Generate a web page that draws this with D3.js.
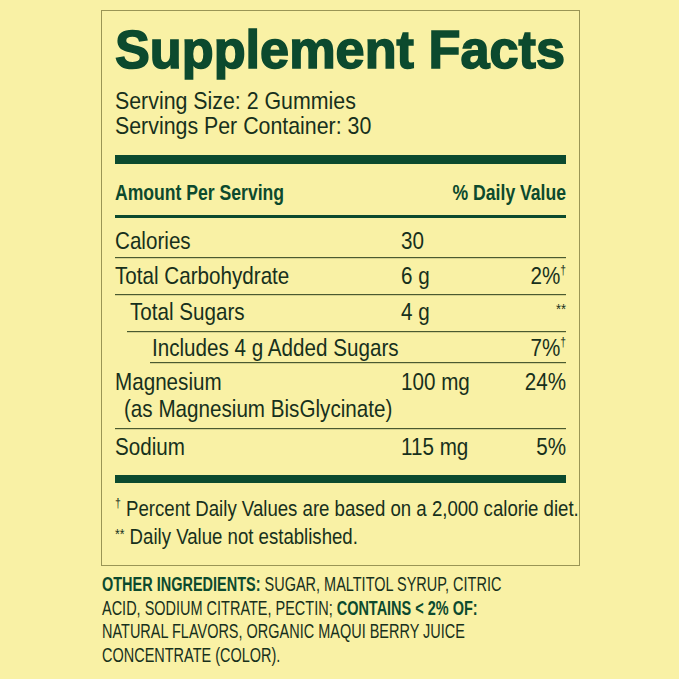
<!DOCTYPE html>
<html><head><meta charset="utf-8">
<script src="https://cdn.jsdelivr.net/npm/d3@7"></script>
<style>body{margin:0;background:#f9f1a5}</style></head>
<body><svg id="c" width="679" height="679"></svg>
<script>
const title = "Supplement Facts";
const servingLines = ["Serving Size: 2 Gummies", "Servings Per Container: 30"];
const headers = ["Amount Per Serving", "% Daily Value"];
const nutrients = ["Calories", "Total Carbohydrate", "Total Sugars", "Includes 4 g Added Sugars", "Magnesium", "Sodium"];
const subLabels = ["", "", "", "", "(as Magnesium BisGlycinate)", ""];
const amounts = ["30", "6 g", "4 g", "", "100 mg", "115 mg"];
const dailyValues = ["", "2%", "**", "7%", "24%", "5%"];
const daggers = [false, true, false, true, false, false];
const indents = [0, 0, 1, 2, 0, 0];
const footnotes = ["\u2020 Percent Daily Values are based on a 2,000 calorie diet.", "** Daily Value not established."];
const ingredients = [
 [["OTHER INGREDIENTS: ",1],["SUGAR, MALTITOL SYRUP, CITRIC",0]],
 [["ACID, SODIUM CITRATE, PECTIN; ",0],["CONTAINS < 2% OF:",1]],
 [["NATURAL FLAVORS, ORGANIC MAQUI BERRY JUICE",0]],
 [["CONCENTRATE (COLOR).",0]]];

const svg = d3.select("#c");
const G = "#0c4a2e", T = "#17301c";
const F = "'Liberation Sans',Arial,sans-serif";
function txt(x,y,s,size,sx,opts={}){
  const g = svg.append("g").attr("transform",`translate(${x},${y}) scale(${sx},1)`);
  const t = g.append("text").attr("font-family",F).attr("font-size",size).attr("fill",opts.fill||T)
    .attr("font-weight",opts.bold?700:400).attr("text-anchor",opts.anchor||"start");
  if(s!==null) t.text(s);
  return t;
}
svg.append("rect").attr("width",679).attr("height",679).attr("fill","#f9f1a5");
svg.append("rect").attr("x",101.5).attr("y",10.5).attr("width",478).attr("height",555).attr("fill","none").attr("stroke","#9a9555").attr("stroke-width",1);
svg.append("text").attr("x",115).attr("y",68).attr("font-family",F).attr("font-weight",900)
 .attr("font-size",54).attr("fill",G).attr("stroke",G).attr("stroke-width",1.6).attr("textLength",450).attr("lengthAdjust","spacingAndGlyphs").text(title);
servingLines.forEach((s,i)=>txt(115,109+i*25,s,24,0.89));
svg.append("rect").attr("x",115).attr("y",155).attr("width",451).attr("height",9).attr("fill",G);
txt(115,200,headers[0],22,0.8,{bold:1,fill:G});
txt(566,200,headers[1],22,0.8,{bold:1,fill:G,anchor:"end"});
svg.append("rect").attr("x",115).attr("y",215).attr("width",451).attr("height",3).attr("fill",G);

const baselines = [249,284,320,356,390,455];
const lineYs = [257,294,331,362,428,null];
const indentX = [115,130,152];
const lineX = [115,115,127,150,115,115];
nutrients.forEach((n,i)=>{
  const y = baselines[i];
  txt(indentX[indents[i]],y,n,24,0.86);
  if(subLabels[i]) txt(124,y+27,subLabels[i],24,0.86);
  txt(401,y,amounts[i],24,0.86);
  const star = dailyValues[i]==="**";
  const dv = txt(566,star?y-6:y,dailyValues[i],star?15:24,0.86,{anchor:"end"});
  if(daggers[i]) dv.append("tspan").attr("dy",-10).attr("font-size",12).text("\u2020");
  if(lineYs[i]) svg.append("rect").attr("x",lineX[i]).attr("y",lineYs[i]).attr("width",566-lineX[i]).attr("height",1.2).attr("fill","#4a5a30");
});
svg.append("rect").attr("x",115).attr("y",475).attr("width",451).attr("height",8).attr("fill",G);
footnotes.forEach((f,i)=>{
  const t = txt(115,516+i*28,null,23,0.81);
  if(i===0){ t.append("tspan").attr("font-size",13).attr("dy",-9).text("\u2020"); t.append("tspan").attr("dy",9).text(f.slice(1)); }
  else { t.append("tspan").attr("font-size",15).attr("dy",-5).text("**"); t.append("tspan").attr("dy",5).text(f.slice(2)); }
});
ingredients.forEach((line,i)=>{
  const t = txt(102,591+i*23.5,null,21,0.69);
  line.forEach(([s,b])=>t.append("tspan").attr("font-weight",b?700:400).attr("fill",b?G:T).text(s));
});
</script></body></html>
